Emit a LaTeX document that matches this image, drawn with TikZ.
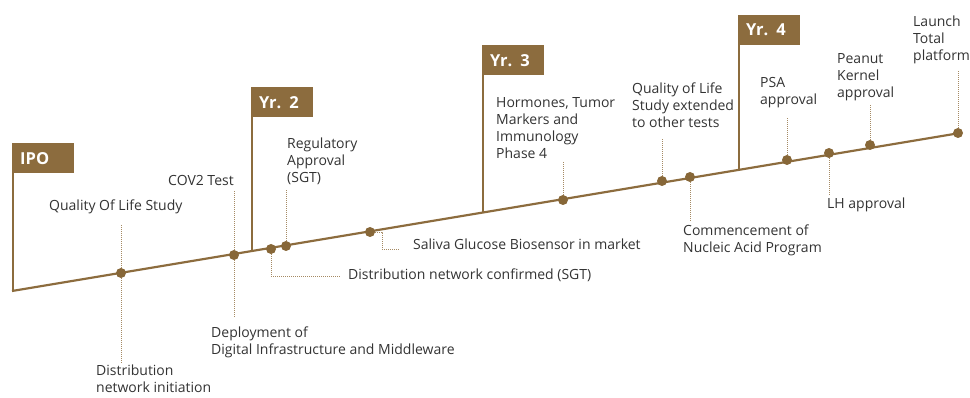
\documentclass[tikz,border=0pt]{standalone}
\usepackage{fontspec}
\setsansfont{Open Sans}
\usetikzlibrary{positioning}
\definecolor{goldbrown}{HTML}{8C6C3E}
\definecolor{dotbrown}{HTML}{876738}
\definecolor{leadercolor}{HTML}{A58A63}
\definecolor{textgray}{HTML}{333333}

\begin{document}
\begin{tikzpicture}[x=1pt,y=-1pt]
\tikzset{
  milestone/.style={circle,fill=dotbrown,minimum size=10pt,inner sep=0pt},
  flagbox/.style={rectangle,fill=goldbrown,text=white,anchor=north west,minimum height=30pt,
    text width=46pt,inner xsep=8pt,inner ysep=0pt,align=left,font=\sffamily\bfseries\fontsize{16.5}{16}\selectfont},
  eventtext/.style={anchor=north west,align=left,inner sep=0pt,text=textgray,font=\sffamily\fontsize{14}{17}\selectfont},
  leader/.style={draw=leadercolor,line width=0.8pt,dash pattern=on 1pt off 1pt},
  timeline/.style={draw=goldbrown,line width=2.2pt},
  flagpole/.style={draw=goldbrown,line width=2pt}
}
\useasboundingbox (0,0) rectangle (970,398);
% main line
\coordinate (line_start) at (12,291);
\coordinate (line_end) at (960,133);
\draw[timeline] (line_start) -- (line_end);
% flags
\node[flagbox] (flag_ipo) at (12,143) {IPO};
\node[flagbox] (flag_y2) at (251,87) {Yr. 2};
\node[flagbox] (flag_y3) at (482,45) {Yr. 3};
\node[flagbox] (flag_y4) at (738,15) {Yr. 4};
\coordinate (foot_ipo) at (13,291);
\coordinate (foot_y2) at (252,251);
\coordinate (foot_y3) at (483,212);
\coordinate (foot_y4) at (739,169);
\draw[flagpole] (flag_ipo.south west) ++(1,0) -- (foot_ipo);
\draw[flagpole] (flag_y2.south west) ++(1,0) -- (foot_y2);
\draw[flagpole] (flag_y3.south west) ++(1,0) -- (foot_y3);
\draw[flagpole] (flag_y4.south west) ++(1,0) -- (foot_y4);
% milestones
\node[milestone] (d_qol) at (121,273) {};
\node[milestone] (d_cov) at (234,255) {};
\node[milestone] (d_distconf) at (271,249) {};
\node[milestone] (d_reg) at (286,246) {};
\node[milestone] (d_saliva) at (370,232) {};
\node[milestone] (d_horm) at (563,200) {};
\node[milestone] (d_qolext) at (662,181) {};
\node[milestone] (d_nucleic) at (690,177) {};
\node[milestone] (d_psa) at (787,160) {};
\node[milestone] (d_lh) at (829,153) {};
\node[milestone] (d_peanut) at (870,145) {};
\node[milestone] (d_launch) at (958,133) {};
% texts
\node[eventtext] (t_qol) at (49,200) {Quality Of Life Study};
\node[eventtext] (t_distinit) at (96,365) {Distribution\\network initiation};
\node[eventtext] (t_cov) at (168,175) {COV2 Test};
\node[eventtext] (t_deploy) at (211,327) {Deployment of\\Digital Infrastructure and Middleware};
\node[eventtext] (t_reg) at (287,138) {Regulatory\\Approval\\(SGT)};
\node[eventtext] (t_distconf) at (348,269) {Distribution network confirmed (SGT)};
\node[eventtext] (t_saliva) at (413,239) {Saliva Glucose Biosensor in market};
\node[eventtext] (t_horm) at (496,97) {Hormones, Tumor\\Markers and\\Immunology\\Phase 4};
\node[eventtext] (t_qolext) at (632,83) {Quality of Life\\Study extended\\to other tests};
\node[eventtext] (t_nucleic) at (683,225) {Commencement of\\Nucleic Acid Program};
\node[eventtext] (t_psa) at (760,77) {PSA\\approval};
\node[eventtext] (t_lh) at (827,198) {LH approval};
\node[eventtext] (t_peanut) at (837,53) {Peanut\\Kernel\\approval};
\node[eventtext] (t_launch) at (913,16) {Launch\\Total\\platform};
% leaders
\draw[leader] (d_qol) -- ++(0,-48);
\draw[leader] (d_qol) -- ++(0,90);
\draw[leader] (d_cov) -- ++(0,-65);
\draw[leader] (d_cov) -- ++(0,63);
\draw[leader] (d_reg) -- ++(0,-56);
\draw[leader] (d_distconf) -- ++(0,27) -- ++(69,0);
\draw[leader] (d_saliva.east) -- ++(7,0) -- ++(0,17) -- ++(18,0);
\draw[leader] (d_horm) -- ++(0,-38);
\draw[leader] (d_qolext) -- ++(0,-43);
\draw[leader] (d_nucleic) -- ++(0,45);
\draw[leader] (d_psa) -- ++(0,-43);
\draw[leader] (d_lh) -- ++(0,42);
\draw[leader] (d_peanut) -- ++(0,-40);
\draw[leader] (d_launch) -- ++(0,-63);
\end{tikzpicture}
\end{document}
